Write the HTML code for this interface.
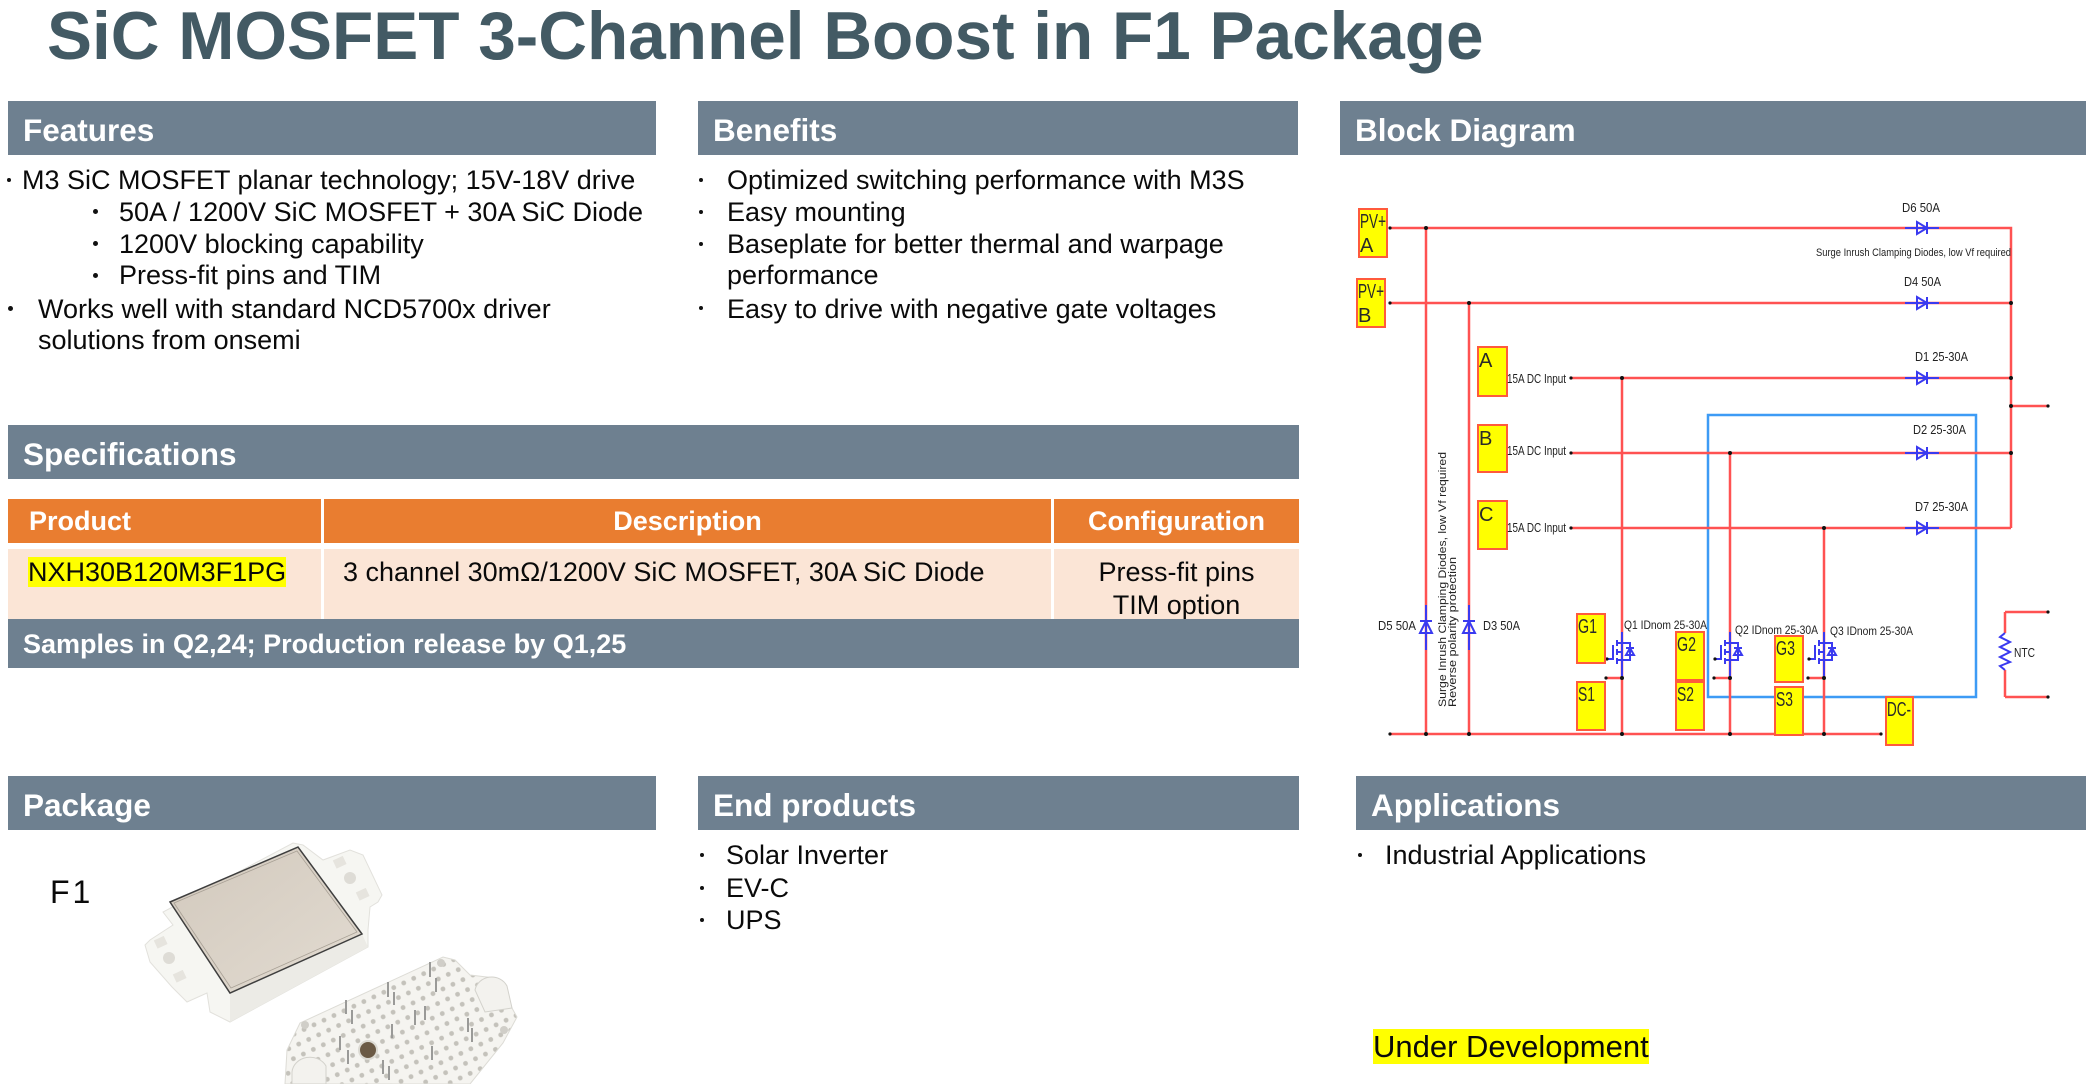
<!DOCTYPE html>
<html>
<head>
<meta charset="utf-8">
<style>
  html,body{margin:0;padding:0;}
  body{width:2086px;height:1084px;overflow:hidden;background:#fff;position:relative;font-family:"Liberation Sans",Arial,sans-serif;}
  .title{position:absolute;left:47px;top:3px;font-size:67.5px;line-height:67px;font-weight:bold;color:#435a64;white-space:nowrap;}
  .hdr{position:absolute;height:54px;line-height:54px;padding-top:2px;background:#6e8090;color:#fff;font-weight:bold;font-size:31.5px;padding-left:15px;box-sizing:border-box;white-space:nowrap;overflow:visible;}
  .t{position:absolute;font-size:27px;line-height:32px;white-space:nowrap;color:#0a0a0a;}
  .dot{position:absolute;width:5px;height:5px;border-radius:50%;background:#111;}
  .cell{position:absolute;box-sizing:border-box;}
  .th{background:#e97d30;color:#fff;font-weight:bold;font-size:27px;line-height:44px;}
  .td{background:#fbe5d6;}
  svg{position:absolute;left:0;top:0;}
</style>
</head>
<body>

<div class="title">SiC MOSFET 3-Channel Boost in F1 Package</div>

<!-- Headers -->
<div class="hdr" style="left:8px;top:101px;width:648px;">Features</div>
<div class="hdr" style="left:698px;top:101px;width:600px;">Benefits</div>
<div class="hdr" style="left:1340px;top:101px;width:746px;">Block Diagram</div>
<div class="hdr" style="left:8px;top:425px;width:1291px;">Specifications</div>
<div class="hdr" style="left:8px;top:776px;width:648px;">Package</div>
<div class="hdr" style="left:698px;top:776px;width:601px;">End products</div>
<div class="hdr" style="left:1356px;top:776px;width:730px;">Applications</div>

<!-- Features -->
<div class="dot" style="left:7px;top:178px;width:4px;height:4px;"></div>
<div class="t" style="left:22px;top:164px;">M3 SiC MOSFET planar technology; 15V-18V drive</div>
<div class="dot" style="left:93px;top:209px;"></div>
<div class="t" style="left:119px;top:196px;">50A / 1200V SiC MOSFET + 30A SiC Diode</div>
<div class="dot" style="left:93px;top:241px;"></div>
<div class="t" style="left:119px;top:228px;">1200V blocking capability</div>
<div class="dot" style="left:93px;top:273px;"></div>
<div class="t" style="left:119px;top:259px;">Press-fit pins and TIM</div>
<div class="dot" style="left:8px;top:306px;"></div>
<div class="t" style="left:38px;top:293px;">Works well with standard NCD5700x driver</div>
<div class="t" style="left:38px;top:324px;">solutions from onsemi</div>

<!-- Benefits -->
<div class="dot" style="left:699px;top:178px;width:4px;height:4px;"></div>
<div class="t" style="left:727px;top:164px;">Optimized switching performance with M3S</div>
<div class="dot" style="left:699px;top:210px;width:4px;height:4px;"></div>
<div class="t" style="left:727px;top:196px;">Easy mounting</div>
<div class="dot" style="left:699px;top:242px;width:4px;height:4px;"></div>
<div class="t" style="left:727px;top:228px;">Baseplate for better thermal and warpage</div>
<div class="t" style="left:727px;top:259px;">performance</div>
<div class="dot" style="left:699px;top:306px;width:4px;height:4px;"></div>
<div class="t" style="left:727px;top:293px;">Easy to drive with negative gate voltages</div>

<!-- Specifications table -->
<div class="cell th" style="left:8px;top:499px;width:313px;height:44px;padding-left:21px;">Product</div>
<div class="cell th" style="left:324px;top:499px;width:727px;height:44px;text-align:center;">Description</div>
<div class="cell th" style="left:1054px;top:499px;width:245px;height:44px;text-align:center;">Configuration</div>
<div class="cell td" style="left:8px;top:549px;width:313px;height:70px;"></div>
<div class="cell td" style="left:324px;top:549px;width:727px;height:70px;"></div>
<div class="cell td" style="left:1054px;top:549px;width:245px;height:70px;"></div>
<div class="t" style="left:28px;top:556px;"><span style="background:#ffff00;">NXH30B120M3F1PG</span></div>
<div class="t" style="left:343px;top:556px;">3 channel 30mΩ/1200V SiC MOSFET, 30A SiC Diode</div>
<div class="t" style="left:1054px;top:556px;width:245px;text-align:center;">Press-fit pins</div>
<div class="t" style="left:1054px;top:589px;width:245px;text-align:center;">TIM option</div>
<div class="cell" style="left:8px;top:619px;width:1291px;height:49px;background:#6e8090;"></div>
<div class="t" style="left:23px;top:628px;color:#fff;font-weight:bold;">Samples in Q2,24; Production release by Q1,25</div>

<!-- Package -->
<div class="t" style="left:50px;top:872px;font-size:32px;line-height:40px;letter-spacing:3px;">F1</div>

<!-- End products -->
<div class="dot" style="left:700px;top:853px;width:4px;height:4px;"></div>
<div class="t" style="left:726px;top:839px;">Solar Inverter</div>
<div class="dot" style="left:700px;top:886px;width:4px;height:4px;"></div>
<div class="t" style="left:726px;top:872px;">EV-C</div>
<div class="dot" style="left:700px;top:918px;width:4px;height:4px;"></div>
<div class="t" style="left:726px;top:904px;">UPS</div>

<!-- Applications -->
<div class="dot" style="left:1358px;top:853px;width:4px;height:4px;"></div>
<div class="t" style="left:1385px;top:839px;">Industrial Applications</div>

<div class="t" style="left:1373px;top:1027px;font-size:31px;line-height:40px;"><span style="background:#ffff00;">Under Development</span></div>

<svg width="2086" height="1084" viewBox="0 0 2086 1084">
  <defs>
    <pattern id="holes" width="11" height="11" patternUnits="userSpaceOnUse" patternTransform="rotate(-25)">
      <rect width="11" height="11" fill="#f5f4f0"/>
      <circle cx="5.5" cy="5.5" r="2.4" fill="#c4c2bb"/>
    </pattern>
    <linearGradient id="lid" x1="0" y1="0" x2="1" y2="1">
      <stop offset="0" stop-color="#d2c9bd"/>
      <stop offset="1" stop-color="#e2dbd1"/>
    </linearGradient>
  </defs>

  <!-- ===== Package picture ===== -->
  <polygon points="145,945 150,940 173,925 163,912 293,843 303,845 323,860 350,850 363,855 382,895 378,902 370,907 368,930 368,947 230,1022 210,1012 207,993 187,1002 172,987 150,962" fill="#f6f6f2" stroke="#e2e1dc" stroke-width="1"/>
  <polygon points="230,993 362,934 368,947 230,1022" fill="#ecebe6"/>
  <polygon points="170,902 298,847 362,934 230,993" fill="url(#lid)" stroke="#3e3e3e" stroke-width="1.5"/>
  <polygon points="174,903 297,851 357,932 231,988" fill="none" stroke="#a8a095" stroke-width="0.8"/>
  <circle cx="169" cy="958" r="6" fill="#dedcd6"/>
  <rect x="155" y="938" width="11" height="9" fill="#e6e4de" transform="rotate(-25 160 942)"/>
  <rect x="174" y="972" width="11" height="9" fill="#e6e4de" transform="rotate(-25 179 976)"/>
  <circle cx="350" cy="878" r="6" fill="#dedcd6"/>
  <rect x="334" y="858" width="11" height="9" fill="#e6e4de" transform="rotate(-25 339 862)"/>
  <rect x="357" y="890" width="11" height="9" fill="#e6e4de" transform="rotate(-25 362 894)"/>

  <polygon points="285,1084 287,1050 300,1023 443,957 455,960 470,975 495,978 517,1017 503,1043 470,1084" fill="url(#holes)" stroke="#dddcd6" stroke-width="1"/>
  <circle cx="368" cy="1050" r="9" fill="#6b5a45" stroke="#dcdad3" stroke-width="2"/>
  <circle cx="441" cy="963" r="4" fill="#d0cec8"/>
  <circle cx="504" cy="1030" r="4" fill="#d0cec8"/>
  <circle cx="305" cy="1025" r="4" fill="#d0cec8"/>
  <path d="M292,1072 a18,16 0 0 1 34,-6 L326,1084 L292,1084 Z" fill="#f3f2ee" stroke="#d3d2cc"/>
  <path d="M475,990 a17,16 0 0 1 32,-4 L512,1008 L485,1012 Z" fill="#f3f2ee" stroke="#d3d2cc"/>
  <g stroke="#9a9a98" stroke-width="2">
    <line x1="430" y1="962" x2="430" y2="977"/>
    <line x1="436" y1="978" x2="436" y2="992"/>
    <line x1="388" y1="982" x2="388" y2="997"/>
    <line x1="394" y1="992" x2="394" y2="1005"/>
    <line x1="346" y1="1000" x2="346" y2="1014"/>
    <line x1="352" y1="1010" x2="352" y2="1024"/>
    <line x1="415" y1="1010" x2="415" y2="1025"/>
    <line x1="425" y1="1006" x2="425" y2="1020"/>
    <line x1="392" y1="1024" x2="392" y2="1038"/>
    <line x1="468" y1="1018" x2="468" y2="1032"/>
    <line x1="472" y1="1028" x2="472" y2="1042"/>
    <line x1="340" y1="1036" x2="340" y2="1050"/>
    <line x1="348" y1="1050" x2="348" y2="1064"/>
    <line x1="432" y1="1046" x2="432" y2="1060"/>
    <line x1="383" y1="1060" x2="383" y2="1074"/>
    <line x1="389" y1="1066" x2="389" y2="1080"/>
  </g>

  <!-- ===== Block diagram ===== -->
  <rect x="1708" y="415" width="268" height="282" fill="none" stroke="#3d9bf5" stroke-width="2.5"/>
  <g stroke="#ff5252" stroke-width="2.5" fill="none">
    <path d="M1390 228H2011V528 M1390 303H2011 M2011 406H2048 M1571 378H2011 M1571 453H2011 M1571 528H2011 M1426 228V734 M1469 303V734 M1622 378V734 M1730 453V734 M1824 528V734 M1390 734H1881 M2005 612V633 M2005 670V697 M2005 612H2048 M2005 697H2048"/>
    <path d="M1606 678H1622 M1714 678H1730 M1808 678H1824"/>
  </g>

  <!-- series diodes -->
  <g stroke="#3a3af0" stroke-width="2" fill="none">
    <path d="M1905 228H1939 M1917 222L1927 228L1917 234Z M1927 222V234"/>
    <path d="M1905 303H1939 M1917 297L1927 303L1917 309Z M1927 297V309"/>
    <path d="M1905 378H1939 M1917 372L1927 378L1917 384Z M1927 372V384"/>
    <path d="M1905 453H1939 M1917 447L1927 453L1917 459Z M1927 447V459"/>
    <path d="M1905 528H1939 M1917 522L1927 528L1917 534Z M1927 522V534"/>
    <!-- vertical diodes D5 D3 -->
    <path d="M1426 605V650 M1420 633L1426 621L1432 633Z M1420 621H1432"/>
    <path d="M1469 605V650 M1463 633L1469 621L1475 633Z M1463 621H1475"/>
    <!-- MOSFETs -->
    <path d="M1622 632V678 M1622 643H1617 M1622 660H1617 M1617 640V646 M1617 649V655 M1617 658V664 M1622 652H1617 M1613 645V660 M1607 659H1613 M1622 643H1630V660H1622 M1626 655H1634L1630 648Z M1626 648H1634"/>
    <path d="M1730 632V678 M1730 643H1725 M1730 660H1725 M1725 640V646 M1725 649V655 M1725 658V664 M1730 652H1725 M1721 645V660 M1715 659H1721 M1730 643H1738V660H1730 M1734 655H1742L1738 648Z M1734 648H1742"/>
    <path d="M1824 632V678 M1824 643H1819 M1824 660H1819 M1819 640V646 M1819 649V655 M1819 658V664 M1824 652H1819 M1815 645V660 M1809 659H1815 M1824 643H1832V660H1824 M1828 655H1836L1832 648Z M1828 648H1836"/>
    <!-- NTC -->
    <path d="M2005 633L2000 637L2010 642L2000 647L2010 652L2000 657L2010 662L2000 666L2005 670"/>
  </g>

  <!-- junction dots -->
  <g fill="#111">
    <circle cx="1426" cy="228" r="2"/><circle cx="1469" cy="303" r="2"/>
    <circle cx="2011" cy="303" r="2"/><circle cx="2011" cy="378" r="2"/>
    <circle cx="2011" cy="406" r="2"/><circle cx="2011" cy="453" r="2"/>
    <circle cx="1622" cy="378" r="2"/><circle cx="1730" cy="453" r="2"/><circle cx="1824" cy="528" r="2"/>
    <circle cx="1426" cy="734" r="2"/><circle cx="1469" cy="734" r="2"/>
    <circle cx="1622" cy="734" r="2"/><circle cx="1730" cy="734" r="2"/><circle cx="1824" cy="734" r="2"/>
    <circle cx="1390" cy="734" r="1.6"/><circle cx="1881" cy="734" r="1.6"/>
    <circle cx="1390" cy="228" r="1.6"/><circle cx="1390" cy="303" r="1.6"/>
    <circle cx="2048" cy="406" r="1.6"/><circle cx="2048" cy="612" r="1.6"/><circle cx="2048" cy="697" r="1.6"/>
    <circle cx="1571" cy="378" r="1.6"/><circle cx="1571" cy="453" r="1.6"/><circle cx="1571" cy="528" r="1.6"/>
    <circle cx="1622" cy="678" r="2"/><circle cx="1730" cy="678" r="2"/><circle cx="1824" cy="678" r="2"/>
    <circle cx="1606" cy="678" r="1.6"/><circle cx="1714" cy="678" r="1.6"/><circle cx="1808" cy="678" r="1.6"/>
    <circle cx="1607" cy="659" r="1.6"/><circle cx="1715" cy="659" r="1.6"/><circle cx="1809" cy="659" r="1.6"/>
  </g>

  <!-- yellow pin boxes -->
  <g fill="#ffff00" stroke="#ff5a3c" stroke-width="2">
    <rect x="1359" y="209" width="28" height="48"/>
    <rect x="1357" y="279" width="28" height="48"/>
    <rect x="1478" y="347" width="29" height="49"/>
    <rect x="1478" y="425" width="29" height="47"/>
    <rect x="1478" y="501" width="29" height="48"/>
    <rect x="1577" y="614" width="28" height="49"/>
    <rect x="1577" y="682" width="28" height="48"/>
    <rect x="1676" y="632" width="28" height="48"/>
    <rect x="1676" y="682" width="28" height="48"/>
    <rect x="1775" y="636" width="28" height="46"/>
    <rect x="1775" y="687" width="28" height="48"/>
    <rect x="1886" y="697" width="27" height="48"/>
  </g>
  <g font-family="Liberation Sans, Arial, sans-serif" font-size="20" fill="#2a2a2a">
    <text x="1360" y="228" textLength="26" lengthAdjust="spacingAndGlyphs">PV+</text>
    <text x="1360" y="252">A</text>
    <text x="1358" y="298" textLength="26" lengthAdjust="spacingAndGlyphs">PV+</text>
    <text x="1358" y="322">B</text>
    <text x="1479" y="367">A</text>
    <text x="1479" y="445">B</text>
    <text x="1479" y="521">C</text>
    <text x="1578" y="633" textLength="19" lengthAdjust="spacingAndGlyphs">G1</text>
    <text x="1578" y="701" textLength="17" lengthAdjust="spacingAndGlyphs">S1</text>
    <text x="1677" y="651" textLength="19" lengthAdjust="spacingAndGlyphs">G2</text>
    <text x="1677" y="701" textLength="17" lengthAdjust="spacingAndGlyphs">S2</text>
    <text x="1776" y="655" textLength="19" lengthAdjust="spacingAndGlyphs">G3</text>
    <text x="1776" y="706" textLength="17" lengthAdjust="spacingAndGlyphs">S3</text>
    <text x="1887" y="716" textLength="24" lengthAdjust="spacingAndGlyphs">DC-</text>
  </g>

  <!-- labels -->
  <g font-family="Liberation Sans, Arial, sans-serif" font-size="13" fill="#222">
    <text x="1902" y="212" textLength="38" lengthAdjust="spacingAndGlyphs">D6  50A</text>
    <text x="1904" y="286" textLength="37" lengthAdjust="spacingAndGlyphs">D4  50A</text>
    <text x="1915" y="361" textLength="53" lengthAdjust="spacingAndGlyphs">D1  25-30A</text>
    <text x="1913" y="434" textLength="53" lengthAdjust="spacingAndGlyphs">D2  25-30A</text>
    <text x="1915" y="511" textLength="53" lengthAdjust="spacingAndGlyphs">D7  25-30A</text>
    <text x="1507" y="383" textLength="59" lengthAdjust="spacingAndGlyphs">15A DC Input</text>
    <text x="1507" y="455" textLength="59" lengthAdjust="spacingAndGlyphs">15A DC Input</text>
    <text x="1507" y="532" textLength="59" lengthAdjust="spacingAndGlyphs">15A DC Input</text>
    <text x="1378" y="630" textLength="38" lengthAdjust="spacingAndGlyphs">D5  50A</text>
    <text x="1483" y="630" textLength="37" lengthAdjust="spacingAndGlyphs">D3  50A</text>
    <text x="2014" y="657" textLength="21" lengthAdjust="spacingAndGlyphs">NTC</text>
  </g>
  <g font-family="Liberation Sans, Arial, sans-serif" font-size="12" fill="#222">
    <text x="1624" y="629" textLength="83" lengthAdjust="spacingAndGlyphs">Q1 IDnom 25-30A</text>
    <text x="1735" y="634" textLength="83" lengthAdjust="spacingAndGlyphs">Q2 IDnom 25-30A</text>
    <text x="1830" y="635" textLength="83" lengthAdjust="spacingAndGlyphs">Q3 IDnom 25-30A</text>
  </g>
  <g font-family="Liberation Sans, Arial, sans-serif" font-size="11" fill="#222">
    <text x="1816" y="256" textLength="195" lengthAdjust="spacingAndGlyphs">Surge Inrush Clamping Diodes, low Vf required</text>
    <text transform="translate(1446,707) rotate(-90)" textLength="255" lengthAdjust="spacingAndGlyphs">Surge Inrush Clamping Diodes, low Vf required</text>
    <text transform="translate(1456,707) rotate(-90)" textLength="150" lengthAdjust="spacingAndGlyphs">Reverse polarity protection</text>
  </g>
</svg>

</body>
</html>
